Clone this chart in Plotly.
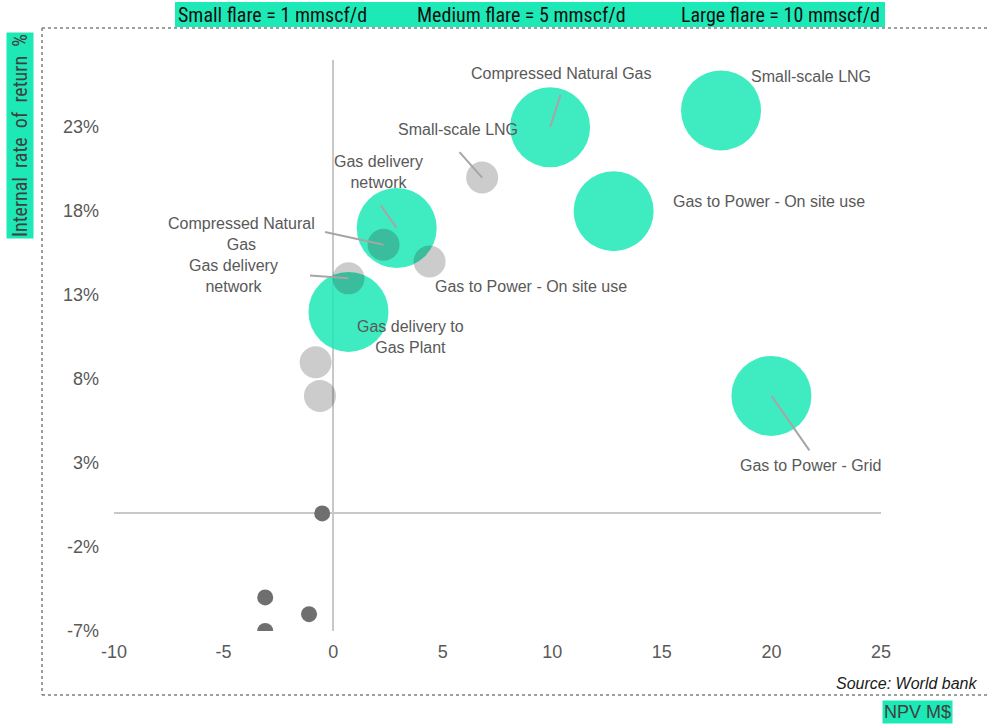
import plotly.graph_objects as go

# ---------------- data ----------------
# Large flare = 10 mmscf/d
large_names = ["Gas delivery to Gas Plant", "Gas delivery network", "Compressed Natural Gas",
               "Gas to Power - On site use", "Small-scale LNG", "Gas to Power - Grid"]
large_npv = [0.7, 2.9, 9.9, 12.8, 17.7, 20.0]
large_irr = [12, 17, 23, 18, 24, 7]

# Medium flare = 5 mmscf/d
medium_names = ["Gas delivery network", "Compressed Natural Gas", "Gas to Power - On site use",
                "Small-scale LNG", "Gas delivery to Gas Plant", "Gas to Power - Grid"]
medium_npv = [0.7, 2.3, 4.4, 6.8, -0.8, -0.6]
medium_irr = [14, 16, 15, 20, 9, 7]

# Small flare = 1 mmscf/d
small_npv = [-0.5, -3.1, -1.1, -3.1]
small_irr = [0, -5, -6, -7]

x_ticks = [-10, -5, 0, 5, 10, 15, 20, 25]
x_ticktext = [str(v) for v in x_ticks]
y_ticks = [-7, -2, 3, 8, 13, 18, 23]
y_ticktext = [f"{v}%" for v in y_ticks]

legend_items = ["Small flare = 1 mmscf/d", "Medium flare = 5 mmscf/d", "Large flare = 10 mmscf/d"]
y_title = "Internal rate of return %"
x_title = "NPV M$"
source = "Source: World bank"

# ---------------- styling ----------------
GREEN = "#1DE9B6"
LABEL_COLOR = "#595959"
NARROW = "Liberation Sans Narrow, Arial Narrow, Roboto Condensed, DejaVu Sans Condensed, sans-serif"
BASE = "Liberation Sans, Arial, sans-serif"

series = [
    dict(x=large_npv, y=large_irr, names=large_names, size=80, color="rgba(29,233,182,0.85)"),
    dict(x=medium_npv, y=medium_irr, names=medium_names, size=32, color="rgba(40,40,40,0.24)"),
    dict(x=small_npv, y=small_irr, names=None, size=16, color="#6f6f6f"),
]

fig = go.Figure()
for s in series:
    fig.add_trace(go.Scatter(
        x=s["x"], y=s["y"], mode="markers",
        marker=dict(size=s["size"], color=s["color"], line=dict(width=0)),
        hoverinfo="skip", showlegend=False,
    ))

# label placement: (series index, point index, text, xshift px, yshift px, leader tail offset px or None)
label_specs = [
    (0, 2, "Compressed Natural Gas", 11, 54, (11, -34)),
    (0, 4, "Small-scale LNG", 90, 34, None),
    (1, 3, "Small-scale LNG", -24, 48, (-24, -27)),
    (0, 1, "Gas delivery<br>network", -18, 56, (-17, -24)),
    (1, 1, "Compressed Natural<br>Gas", -142, 11, (-60, -13)),
    (1, 0, "Gas delivery<br>network", -115, 2, (-40, -3)),
    (0, 3, "Gas to Power - On site use", 155, 10, None),
    (1, 2, "Gas to Power - On site use", 101, -25, None),
    (0, 0, "Gas delivery to<br>Gas Plant", 62, -25, None),
    (0, 5, "Gas to Power - Grid", 39, -70, (39, 56)),
]

annotations = []
for si, pi, text, dx, dy, tail in label_specs:
    px_, py_ = series[si]["x"][pi], series[si]["y"][pi]
    if tail is not None:
        annotations.append(dict(
            x=px_, y=py_, xref="x", yref="y", text="", showarrow=True,
            ax=tail[0], ay=tail[1], arrowhead=0, arrowwidth=2, arrowcolor="#a6a6a6",
            standoff=0, startstandoff=0,
        ))
    annotations.append(dict(
        x=px_, y=py_, xref="x", yref="y", text=text, showarrow=False,
        xshift=dx, yshift=dy, xanchor="center", yanchor="middle",
        font=dict(family=BASE, size=16, color=LABEL_COLOR),
    ))

# plot area in screen pixels: x 114..881, y 60..631
def pxx(p):
    return (p - 114) / 767.0

def pxy(p):
    return (631 - p) / 571.0

legend_centers = [272, 521, 780]
for txt, cx in zip(legend_items, legend_centers):
    annotations.append(dict(
        x=pxx(cx), y=pxy(15), xref="paper", yref="paper", text=txt, showarrow=False,
        xanchor="center", yanchor="middle",
        font=dict(family=NARROW, size=20, color="#111111"),
    ))

annotations.append(dict(
    x=pxx(20), y=pxy(136), xref="paper", yref="paper",
    text=y_title.replace(" ", " \u00a0"), showarrow=False,
    textangle=-90, xanchor="center", yanchor="middle", bgcolor=GREEN, borderpad=1,
    font=dict(family=NARROW, size=20, color="#404040"),
))
annotations.append(dict(
    x=pxx(918), y=pxy(712), xref="paper", yref="paper", text=x_title, showarrow=False,
    xanchor="center", yanchor="middle", bgcolor=GREEN, borderpad=1,
    font=dict(family=BASE, size=18, color="#404040"),
))
annotations.append(dict(
    x=pxx(980), y=pxy(684), xref="paper", yref="paper", text=f"<i>{source}</i>", showarrow=False,
    xanchor="right", yanchor="middle",
    font=dict(family=BASE, size=16, color="#1a1a1a"),
))

frame_line = dict(color="#7f7f7f", width=1.5, dash="dot")
shapes = [
    dict(type="rect", xref="paper", yref="paper", x0=pxx(175), x1=pxx(885), y0=pxy(27), y1=pxy(2),
         fillcolor=GREEN, line=dict(width=0), layer="below"),
    # dotted frame: top, left and bottom edges (right edge lies outside the picture)
    dict(type="line", xref="paper", yref="paper", x0=pxx(42), x1=pxx(1000), y0=pxy(28), y1=pxy(28),
         line=frame_line, layer="below"),
    dict(type="line", xref="paper", yref="paper", x0=pxx(42), x1=pxx(42), y0=pxy(28), y1=pxy(695),
         line=frame_line, layer="below"),
    dict(type="line", xref="paper", yref="paper", x0=pxx(42), x1=pxx(1000), y0=pxy(695), y1=pxy(695),
         line=frame_line, layer="below"),
]

axis_common = dict(showgrid=False, zeroline=True, zerolinecolor="#c8c8c8", zerolinewidth=1.5,
                   showline=False, ticks="", fixedrange=True,
                   tickfont=dict(family=BASE, size=18, color=LABEL_COLOR))

fig.update_layout(
    width=990, height=724,
    margin=dict(l=114, r=109, t=60, b=93),
    plot_bgcolor="white", paper_bgcolor="white",
    font=dict(family=BASE, color=LABEL_COLOR),
    xaxis=dict(range=[-10, 25], tickvals=x_ticks, ticktext=x_ticktext, ticklabelstandoff=8, **axis_common),
    yaxis=dict(range=[-7, 27], tickvals=y_ticks, ticktext=y_ticktext, ticklabelstandoff=14, **axis_common),
    annotations=annotations,
    shapes=shapes,
    showlegend=False,
)

# remove the page's default body margin so the 990x724 figure fills the window exactly
fig.write_html(
    "out.html",
    config={"displayModeBar": False},
    post_script="document.body.style.margin='0';document.body.style.overflow='hidden';",
)
